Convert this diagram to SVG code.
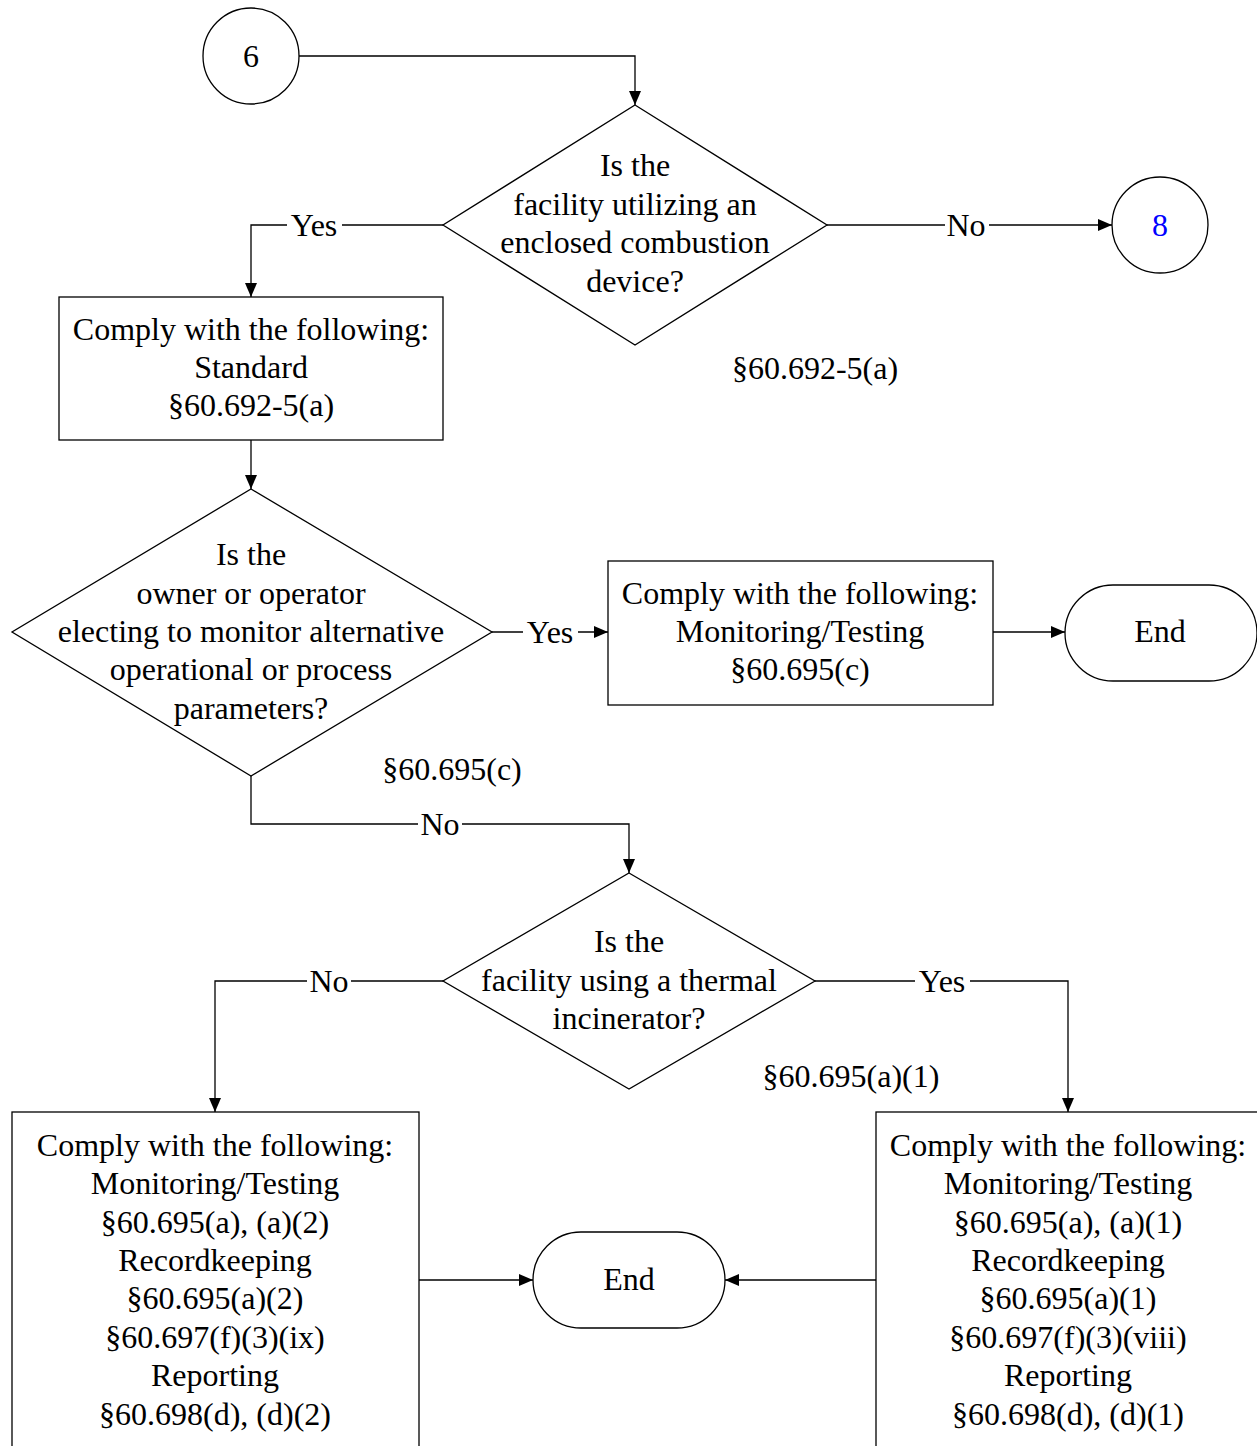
<svg xmlns="http://www.w3.org/2000/svg" width="1257" height="1446" viewBox="0 0 1257 1446">
<style>
.s{fill:#fff;stroke:#000;stroke-width:1.3}
.c{fill:none;stroke:#000;stroke-width:1.3}
text{font-family:"Liberation Serif","Times New Roman",serif;font-size:32px;fill:#000;text-anchor:middle}
.lb{fill:#fff;stroke:none}
</style>
<defs>
<marker id="a" viewBox="0 0 14 12" refX="14" refY="6" markerWidth="14" markerHeight="12" markerUnits="userSpaceOnUse" orient="auto">
<path d="M0,0 L14,6 L0,12 Z" fill="#000"/>
</marker>
</defs>
<rect width="1257" height="1446" fill="#fff"/>
<g id="connectors">
<path class="c" d="M299,56 H635 V105" marker-end="url(#a)"/>
<path class="c" d="M827,225 H1112" marker-end="url(#a)"/>
<path class="c" d="M443,225 H251 V297" marker-end="url(#a)"/>
<path class="c" d="M251,440 V489" marker-end="url(#a)"/>
<path class="c" d="M492,632 H608" marker-end="url(#a)"/>
<path class="c" d="M993,632 H1065" marker-end="url(#a)"/>
<path class="c" d="M251,776 V824 H629 V873" marker-end="url(#a)"/>
<path class="c" d="M443,981 H215 V1112" marker-end="url(#a)"/>
<path class="c" d="M815,981 H1068 V1112" marker-end="url(#a)"/>
<path class="c" d="M419,1280 H533" marker-end="url(#a)"/>
<path class="c" d="M876,1280 H725" marker-end="url(#a)"/>
<rect class="lb" x="945" y="207" width="44" height="36"/>
<text x="966" y="236">No</text>
<rect class="lb" x="287" y="207" width="55" height="36"/>
<text x="314" y="236">Yes</text>
<rect class="lb" x="523" y="614" width="55" height="36"/>
<text x="550" y="643">Yes</text>
<rect class="lb" x="418" y="806" width="44" height="36"/>
<text x="440" y="835">No</text>
<rect class="lb" x="307" y="963" width="44" height="36"/>
<text x="329" y="992">No</text>
<rect class="lb" x="915" y="963" width="55" height="36"/>
<text x="942" y="992">Yes</text>
</g>
<g id="n6">
<circle class="s" cx="251" cy="56" r="48"/>
<text x="251" y="67">6</text>
</g>
<g id="d1">
<path class="s" d="M635,105 L827,225 L635,345 L443,225 Z"/>
<text x="635" y="176">Is the</text>
<text x="635" y="215">facility utilizing an</text>
<text x="635" y="253">enclosed combustion</text>
<text x="635" y="292">device?</text>
</g>
<g id="n8">
<circle class="s" cx="1160" cy="225" r="48"/>
<text x="1160" y="236" style="fill:#0000ff">8</text>
</g>
<g id="ref1"><text x="815" y="379">§60.692-5(a)</text></g>
<g id="b1">
<rect class="s" x="59" y="297" width="384" height="143"/>
<text x="251" y="340">Comply with the following:</text>
<text x="251" y="378">Standard</text>
<text x="251" y="416">§60.692-5(a)</text>
</g>
<g id="d2">
<path class="s" d="M251,489 L492,632 L251,776 L12,632 Z"/>
<text x="251" y="565">Is the</text>
<text x="251" y="604">owner or operator</text>
<text x="251" y="642">electing to monitor alternative</text>
<text x="251" y="680">operational or process</text>
<text x="251" y="719">parameters?</text>
</g>
<g id="ref2"><text x="452" y="780">§60.695(c)</text></g>
<g id="b2">
<rect class="s" x="608" y="561" width="385" height="144"/>
<text x="800" y="604">Comply with the following:</text>
<text x="800" y="642">Monitoring/Testing</text>
<text x="800" y="680">§60.695(c)</text>
</g>
<g id="end1">
<rect class="s" x="1065" y="585" width="192" height="96" rx="48" ry="48"/>
<text x="1160" y="642">End</text>
</g>
<g id="d3">
<path class="s" d="M629,873 L815,981 L629,1089 L443,981 Z"/>
<text x="629" y="952">Is the</text>
<text x="629" y="991">facility using a thermal</text>
<text x="629" y="1029">incinerator?</text>
</g>
<g id="ref3"><text x="851" y="1087">§60.695(a)(1)</text></g>
<g id="b3">
<rect class="s" x="12" y="1112" width="407" height="360"/>
<text x="215" y="1156">Comply with the following:</text>
<text x="215" y="1194">Monitoring/Testing</text>
<text x="215" y="1233">§60.695(a), (a)(2)</text>
<text x="215" y="1271">Recordkeeping</text>
<text x="215" y="1309">§60.695(a)(2)</text>
<text x="215" y="1348">§60.697(f)(3)(ix)</text>
<text x="215" y="1386">Reporting</text>
<text x="215" y="1425">§60.698(d), (d)(2)</text>
</g>
<g id="b4">
<rect class="s" x="876" y="1112" width="390" height="360"/>
<text x="1068" y="1156">Comply with the following:</text>
<text x="1068" y="1194">Monitoring/Testing</text>
<text x="1068" y="1233">§60.695(a), (a)(1)</text>
<text x="1068" y="1271">Recordkeeping</text>
<text x="1068" y="1309">§60.695(a)(1)</text>
<text x="1068" y="1348">§60.697(f)(3)(viii)</text>
<text x="1068" y="1386">Reporting</text>
<text x="1068" y="1425">§60.698(d), (d)(1)</text>
</g>
<g id="end2">
<rect class="s" x="533" y="1232" width="192" height="96" rx="48" ry="48"/>
<text x="629" y="1290">End</text>
</g>
</svg>
